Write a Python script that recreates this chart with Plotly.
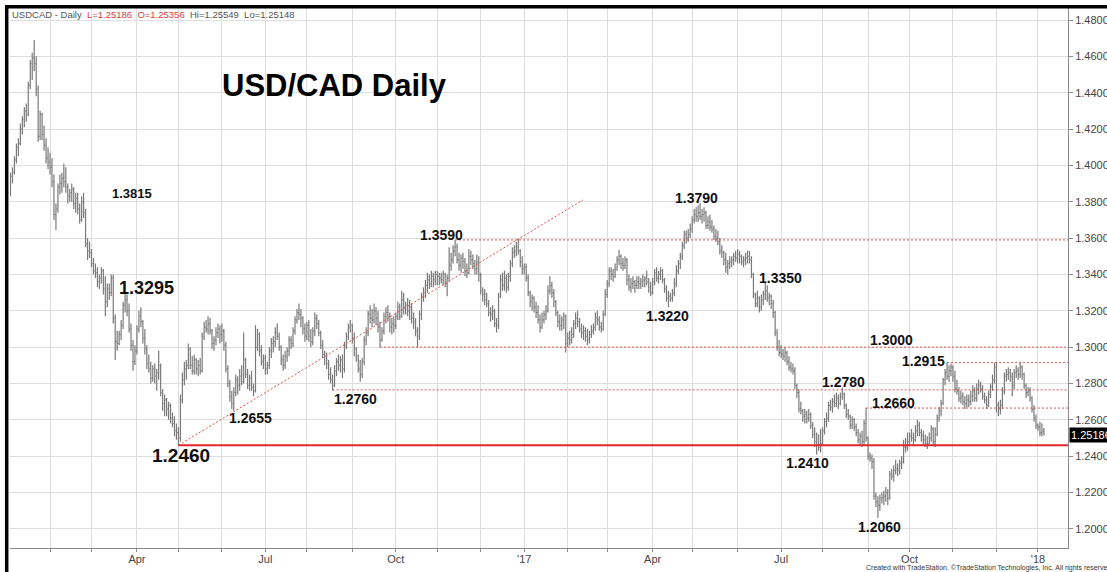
import pandas as pd
import plotly.graph_objects as go

# ---------------- data (USD/CAD daily OHLC, Jan 2016 - Jan 2018) ----------------
dates = pd.bdate_range("2016-01-04", "2018-01-04")

opens = [
    # 2016 Jan
    1.3860,1.3940,1.3960,1.4030,1.4100,1.4120,1.4200,1.4250,1.4300,1.4280,1.4440,1.4560,1.4590,1.4560,1.4420,1.4160,1.4280,1.4170,1.4110,1.4040,
    # Feb
    1.4020,1.3990,1.3910,1.3730,1.3760,1.3880,1.3900,1.3930,1.3910,1.3880,1.3830,1.3850,1.3870,1.3790,1.3820,1.3760,1.3700,1.3800,1.3740,1.3570,1.3530,
    # Mar
    1.3520,1.3460,1.3420,1.3410,1.3360,1.3380,1.3420,1.3320,1.3250,1.3320,1.3300,1.3380,1.3160,1.3030,1.3020,1.3070,1.3120,1.3230,1.3260,1.3200,1.3100,1.3010,1.2920,
    # Apr
    1.2980,1.3100,1.3170,1.3140,1.3050,1.2990,1.2910,1.2880,1.2830,1.2880,1.2840,1.2860,1.2900,1.2750,1.2690,1.2710,1.2660,1.2680,1.2610,1.2580,1.2540,
    # May
    1.2530,1.2500,1.2710,1.2820,1.2880,1.2900,1.2990,1.2900,1.2870,1.2930,1.2880,1.2900,1.2870,1.3060,1.3110,1.3100,1.3130,1.3090,1.3020,1.3040,1.3080,1.3100,
    # Jun
    1.3070,1.3090,1.3010,1.2880,1.2800,1.2730,1.2690,1.2750,1.2820,1.2790,1.2840,1.2810,1.2930,1.2850,1.2790,1.2830,1.2780,1.2760,1.3000,1.3070,1.2980,1.2920,
    # Jul
    1.2940,1.2880,1.2900,1.2980,1.3020,1.3030,1.3080,1.3060,1.3000,1.2930,1.2900,1.2950,1.2980,1.3040,1.3020,1.3090,1.3150,1.3190,1.3180,1.3160,1.3100,
    # Aug
    1.3060,1.3120,1.3060,1.3030,1.3090,1.3160,1.3130,1.3080,1.3010,1.2960,1.2950,1.2910,1.2850,1.2820,1.2790,1.2870,1.2920,1.2900,1.2930,1.2880,1.3010,1.3060,1.3110,
    # Sep
    1.3120,1.3050,1.2990,1.2950,1.2880,1.2850,1.2920,1.3040,1.3080,1.3180,1.3160,1.3150,1.3200,1.3160,1.3110,1.3040,1.3090,1.3170,1.3190,1.3170,1.3110,1.3130,
    # Oct
    1.3120,1.3170,1.3220,1.3170,1.3260,1.3220,1.3230,1.3200,1.3220,1.3160,1.3140,1.3090,1.3060,1.3180,1.3280,1.3300,1.3340,1.3370,1.3350,1.3390,1.3370,
    # Nov
    1.3400,1.3390,1.3380,1.3370,1.3400,1.3350,1.3380,1.3450,1.3480,1.3530,1.3550,1.3480,1.3450,1.3490,1.3470,1.3420,1.3410,1.3500,1.3480,1.3460,1.3430,1.3470,
    # Dec
    1.3400,1.3310,1.3290,1.3260,1.3240,1.3190,1.3180,1.3200,1.3130,1.3120,1.3280,1.3370,1.3340,1.3380,1.3330,1.3390,1.3460,1.3520,1.3530,1.3550,1.3530,1.3470,
    # 2017 Jan
    1.3430,1.3440,1.3380,1.3300,1.3250,1.3270,1.3220,1.3190,1.3150,1.3110,1.3150,1.3180,1.3200,1.3310,1.3340,1.3300,1.3250,1.3190,1.3140,1.3120,1.3150,1.3170,
    # Feb
    1.3020,1.3050,1.3040,1.3070,1.3130,1.3160,1.3140,1.3100,1.3080,1.3090,1.3060,1.3040,1.3070,1.3090,1.3110,1.3160,1.3150,1.3110,1.3100,1.3180,
    # Mar
    1.3290,1.3350,1.3420,1.3400,1.3390,1.3430,1.3480,1.3500,1.3460,1.3450,1.3480,1.3370,1.3330,1.3350,1.3360,1.3340,1.3360,1.3350,1.3360,1.3370,1.3380,1.3360,1.3330,
    # Apr
    1.3300,1.3360,1.3410,1.3380,1.3400,1.3420,1.3370,1.3320,1.3270,1.3280,1.3270,1.3300,1.3350,1.3420,1.3460,1.3500,1.3560,1.3620,1.3600,1.3620,
    # May
    1.3650,1.3700,1.3730,1.3720,1.3740,1.3720,1.3730,1.3740,1.3670,1.3690,1.3660,1.3650,1.3610,1.3600,1.3580,1.3530,1.3520,1.3480,1.3440,1.3460,1.3470,1.3480,1.3500,
    # Jun
    1.3490,1.3510,1.3500,1.3470,1.3480,1.3490,1.3500,1.3480,1.3400,1.3290,1.3240,1.3270,1.3220,1.3260,1.3290,1.3310,1.3270,1.3280,1.3240,1.3190,1.3080,1.3000,
    # Jul
    1.2970,1.2960,1.2950,1.2970,1.2920,1.2890,1.2880,1.2870,1.2790,1.2750,1.2660,1.2650,1.2620,1.2630,1.2610,1.2630,1.2570,1.2520,1.2480,1.2460,1.2450,
    # Aug
    1.2470,1.2540,1.2590,1.2610,1.2680,1.2670,1.2700,1.2690,1.2720,1.2690,1.2730,1.2740,1.2680,1.2630,1.2620,1.2570,1.2600,1.2560,1.2530,1.2490,1.2510,1.2480,1.2580,
    # Sep
    1.2500,1.2400,1.2390,1.2370,1.2180,1.2150,1.2130,1.2170,1.2170,1.2180,1.2200,1.2170,1.2300,1.2290,1.2320,1.2330,1.2320,1.2360,1.2370,1.2450,1.2450,
    # Oct
    1.2480,1.2510,1.2500,1.2490,1.2540,1.2570,1.2530,1.2510,1.2490,1.2470,1.2470,1.2500,1.2550,1.2480,1.2520,1.2610,1.2650,1.2690,1.2820,1.2860,1.2840,1.2870,
    # Nov
    1.2890,1.2840,1.2770,1.2760,1.2720,1.2730,1.2700,1.2690,1.2710,1.2700,1.2730,1.2760,1.2720,1.2770,1.2790,1.2770,1.2730,1.2710,1.2680,1.2740,1.2780,1.2820,
    # Dec
    1.2890,1.2680,1.2660,1.2680,1.2760,1.2840,1.2850,1.2860,1.2840,1.2790,1.2860,1.2870,1.2850,1.2890,1.2850,1.2790,1.2750,1.2760,1.2720,1.2660,1.2610,
    # 2018 Jan
    1.2570,1.2560,1.2530,1.25356,
]

highs = [
    1.3960,1.3990,1.4050,1.4120,1.4150,1.4230,1.4270,1.4320,1.4340,1.4460,1.4580,1.4620,1.4690,1.4600,1.4440,1.4300,1.4290,1.4220,1.4150,1.4100,
    1.4070,1.4040,1.3950,1.3790,1.3900,1.3950,1.3960,1.4010,1.3990,1.3900,1.3870,1.3900,1.3880,1.3850,1.3850,1.3790,1.3830,1.3850,1.3760,1.3600,1.3580,
    1.3540,1.3490,1.3460,1.3440,1.3400,1.3440,1.3430,1.3390,1.3350,1.3350,1.3400,1.3400,1.3180,1.3090,1.3090,1.3150,1.3250,1.3300,1.3290,1.3240,1.3130,1.3040,1.3010,
    1.3120,1.3200,1.3220,1.3150,1.3100,1.3010,1.2960,1.2920,1.2900,1.2910,1.2880,1.2980,1.2910,1.2770,1.2740,1.2720,1.2700,1.2690,1.2640,1.2620,1.2580,
    1.2560,1.2740,1.2860,1.2920,1.2930,1.3020,1.3000,1.2950,1.2960,1.2940,1.2930,1.2940,1.3080,1.3140,1.3150,1.3170,1.3160,1.3100,1.3060,1.3110,1.3130,1.3120,
    1.3130,1.3100,1.3030,1.2900,1.2820,1.2760,1.2780,1.2850,1.2840,1.2880,1.2900,1.3080,1.2940,1.2880,1.2850,1.2870,1.2800,1.3120,1.3100,1.3080,1.3010,1.2960,
    1.2960,1.2920,1.3000,1.3050,1.3060,1.3110,1.3130,1.3080,1.3010,1.2960,1.2980,1.3000,1.3060,1.3060,1.3110,1.3170,1.3210,1.3240,1.3210,1.3170,1.3130,
    1.3140,1.3150,1.3100,1.3110,1.3190,1.3180,1.3150,1.3090,1.3040,1.2980,1.2970,1.2930,1.2890,1.2850,1.2900,1.2940,1.2960,1.2950,1.2960,1.3030,1.3080,1.3130,1.3150,
    1.3130,1.3080,1.3000,1.2960,1.2930,1.2940,1.3060,1.3110,1.3200,1.3230,1.3210,1.3240,1.3220,1.3200,1.3140,1.3110,1.3190,1.3220,1.3230,1.3190,1.3160,1.3170,
    1.3190,1.3250,1.3240,1.3310,1.3300,1.3250,1.3270,1.3260,1.3240,1.3190,1.3160,1.3110,1.3200,1.3300,1.3330,1.3370,1.3410,1.3400,1.3420,1.3410,1.3420,
    1.3420,1.3410,1.3410,1.3420,1.3410,1.3400,1.3550,1.3520,1.3560,1.3590,1.3570,1.3520,1.3510,1.3520,1.3490,1.3460,1.3540,1.3530,1.3510,1.3480,1.3510,1.3500,
    1.3410,1.3330,1.3320,1.3300,1.3260,1.3220,1.3230,1.3210,1.3160,1.3300,1.3400,1.3410,1.3420,1.3400,1.3410,1.3480,1.3550,1.3560,1.3580,1.3595,1.3540,1.3500,
    1.3460,1.3460,1.3400,1.3310,1.3290,1.3280,1.3250,1.3230,1.3180,1.3190,1.3200,1.3230,1.3340,1.3390,1.3360,1.3320,1.3260,1.3200,1.3180,1.3170,1.3190,1.3180,
    1.3080,1.3090,1.3110,1.3150,1.3190,1.3200,1.3160,1.3130,1.3120,1.3110,1.3100,1.3090,1.3120,1.3130,1.3190,1.3200,1.3170,1.3140,1.3200,1.3320,
    1.3370,1.3440,1.3440,1.3430,1.3460,1.3500,1.3535,1.3510,1.3490,1.3500,1.3490,1.3400,1.3380,1.3390,1.3370,1.3390,1.3390,1.3380,1.3400,1.3390,1.3420,1.3380,1.3360,
    1.3380,1.3430,1.3440,1.3420,1.3440,1.3430,1.3380,1.3340,1.3310,1.3300,1.3320,1.3380,1.3450,1.3480,1.3520,1.3580,1.3640,1.3640,1.3650,1.3680,
    1.3720,1.3760,1.3770,1.3780,1.3793,1.3760,1.3770,1.3750,1.3720,1.3730,1.3700,1.3670,1.3650,1.3640,1.3600,1.3560,1.3530,1.3520,1.3480,1.3500,1.3500,1.3520,1.3530,
    1.3540,1.3530,1.3510,1.3500,1.3520,1.3530,1.3530,1.3500,1.3410,1.3300,1.3310,1.3280,1.3290,1.3310,1.3360,1.3340,1.3300,1.3290,1.3260,1.3200,1.3100,1.3040,
    1.3010,1.2990,1.3000,1.2980,1.2950,1.2920,1.2910,1.2890,1.2800,1.2770,1.2700,1.2660,1.2660,1.2650,1.2660,1.2640,1.2590,1.2560,1.2530,1.2520,1.2550,
    1.2560,1.2610,1.2640,1.2700,1.2710,1.2720,1.2740,1.2750,1.2740,1.2750,1.2778,1.2750,1.2690,1.2660,1.2630,1.2620,1.2610,1.2580,1.2550,1.2530,1.2540,1.2600,1.2666,
    1.2510,1.2420,1.2410,1.2390,1.2200,1.2180,1.2190,1.2200,1.2210,1.2230,1.2220,1.2320,1.2330,1.2350,1.2380,1.2360,1.2380,1.2400,1.2490,1.2500,1.2530,
    1.2530,1.2550,1.2530,1.2570,1.2600,1.2590,1.2550,1.2540,1.2520,1.2510,1.2530,1.2570,1.2560,1.2560,1.2630,1.2670,1.2710,1.2830,1.2880,1.2915,1.2900,1.2910,
    1.2900,1.2870,1.2820,1.2780,1.2760,1.2750,1.2730,1.2740,1.2740,1.2760,1.2790,1.2780,1.2800,1.2820,1.2810,1.2790,1.2750,1.2730,1.2760,1.2800,1.2850,1.2915,
    1.2920,1.2700,1.2710,1.2780,1.2860,1.2880,1.2890,1.2880,1.2860,1.2880,1.2900,1.2890,1.2915,1.2900,1.2860,1.2800,1.2780,1.2780,1.2730,1.2680,1.2630,
    1.2580,1.2590,1.2580,1.25549,
]

lows = [
    1.3830,1.3900,1.3950,1.4010,1.4050,1.4110,1.4170,1.4210,1.4240,1.4270,1.4420,1.4470,1.4520,1.4380,1.4130,1.4140,1.4140,1.4080,1.4010,1.3980,
    1.3950,1.3880,1.3700,1.3645,1.3740,1.3840,1.3850,1.3880,1.3850,1.3790,1.3800,1.3800,1.3760,1.3740,1.3730,1.3680,1.3690,1.3710,1.3550,1.3480,1.3490,
    1.3440,1.3400,1.3380,1.3330,1.3320,1.3350,1.3290,1.3170,1.3220,1.3260,1.3280,1.3130,1.2930,1.2980,1.3010,1.3040,1.3100,1.3190,1.3170,1.3080,1.2980,1.2870,1.2900,
    1.2960,1.3080,1.3110,1.3020,1.2960,1.2880,1.2860,1.2800,1.2810,1.2800,1.2760,1.2820,1.2730,1.2650,1.2620,1.2620,1.2600,1.2580,1.2560,1.2510,1.2490,
    1.2460,1.2480,1.2690,1.2790,1.2820,1.2880,1.2880,1.2850,1.2850,1.2850,1.2840,1.2850,1.2860,1.3040,1.3080,1.3070,1.3070,1.2990,1.2980,1.3010,1.3050,1.3020,
    1.3030,1.2980,1.2860,1.2780,1.2700,1.2660,1.2650,1.2730,1.2740,1.2760,1.2790,1.2800,1.2830,1.2770,1.2760,1.2760,1.2730,1.2750,1.2980,1.2950,1.2900,1.2880,
    1.2850,1.2850,1.2880,1.2940,1.2970,1.3000,1.3040,1.2980,1.2900,1.2870,1.2880,1.2920,1.2950,1.2990,1.3000,1.3070,1.3130,1.3150,1.3110,1.3070,1.3030,
    1.3040,1.3030,1.3000,1.3010,1.3060,1.3100,1.3060,1.2990,1.2940,1.2900,1.2880,1.2820,1.2800,1.2760,1.2780,1.2840,1.2870,1.2860,1.2830,1.2860,1.2990,1.3040,1.3080,
    1.3020,1.2950,1.2920,1.2860,1.2810,1.2830,1.2900,1.3010,1.3060,1.3130,1.3110,1.3130,1.3120,1.3080,1.3000,1.3030,1.3070,1.3130,1.3140,1.3080,1.3070,1.3080,
    1.3100,1.3150,1.3150,1.3160,1.3180,1.3180,1.3170,1.3150,1.3130,1.3100,1.3060,1.3000,1.3040,1.3150,1.3250,1.3270,1.3300,1.3320,1.3330,1.3330,1.3340,
    1.3340,1.3340,1.3350,1.3340,1.3330,1.3280,1.3360,1.3420,1.3460,1.3500,1.3460,1.3420,1.3410,1.3430,1.3390,1.3380,1.3400,1.3450,1.3430,1.3400,1.3400,1.3360,
    1.3290,1.3250,1.3230,1.3220,1.3170,1.3140,1.3150,1.3110,1.3080,1.3100,1.3270,1.3310,1.3310,1.3300,1.3310,1.3360,1.3440,1.3490,1.3500,1.3510,1.3440,1.3400,
    1.3400,1.3360,1.3280,1.3220,1.3200,1.3190,1.3160,1.3130,1.3080,1.3100,1.3130,1.3150,1.3190,1.3290,1.3270,1.3220,1.3170,1.3110,1.3090,1.3090,1.3100,1.2970,
    1.3000,1.3010,1.3020,1.3050,1.3100,1.3110,1.3080,1.3050,1.3040,1.3030,1.3010,1.3020,1.3050,1.3070,1.3090,1.3120,1.3090,1.3080,1.3090,1.3170,
    1.3270,1.3330,1.3370,1.3360,1.3380,1.3420,1.3450,1.3430,1.3420,1.3430,1.3340,1.3310,1.3300,1.3320,1.3300,1.3320,1.3320,1.3320,1.3330,1.3330,1.3340,1.3300,1.3280,
    1.3290,1.3340,1.3360,1.3350,1.3370,1.3350,1.3300,1.3250,1.3220,1.3250,1.3250,1.3280,1.3330,1.3400,1.3430,1.3480,1.3540,1.3570,1.3580,1.3600,
    1.3630,1.3680,1.3690,1.3690,1.3700,1.3680,1.3690,1.3650,1.3650,1.3640,1.3630,1.3590,1.3580,1.3560,1.3510,1.3490,1.3450,1.3410,1.3400,1.3430,1.3440,1.3450,1.3470,
    1.3460,1.3460,1.3450,1.3440,1.3450,1.3460,1.3460,1.3380,1.3270,1.3220,1.3220,1.3190,1.3200,1.3230,1.3260,1.3250,1.3230,1.3210,1.3160,1.3060,1.2980,1.2950,
    1.2940,1.2930,1.2920,1.2900,1.2870,1.2860,1.2850,1.2770,1.2720,1.2640,1.2630,1.2590,1.2580,1.2580,1.2590,1.2550,1.2500,1.2450,1.2410,1.2430,1.2420,
    1.2460,1.2520,1.2560,1.2590,1.2650,1.2640,1.2670,1.2670,1.2660,1.2680,1.2710,1.2660,1.2610,1.2600,1.2550,1.2550,1.2540,1.2510,1.2470,1.2460,1.2450,1.2460,1.2480,
    1.2380,1.2370,1.2330,1.2160,1.2120,1.2062,1.2100,1.2140,1.2130,1.2150,1.2130,1.2160,1.2270,1.2260,1.2300,1.2290,1.2300,1.2330,1.2360,1.2420,1.2430,
    1.2460,1.2480,1.2460,1.2480,1.2510,1.2510,1.2480,1.2460,1.2450,1.2440,1.2460,1.2480,1.2460,1.2450,1.2510,1.2590,1.2620,1.2680,1.2790,1.2820,1.2810,1.2840,
    1.2810,1.2750,1.2740,1.2700,1.2690,1.2680,1.2660,1.2670,1.2670,1.2680,1.2700,1.2700,1.2700,1.2740,1.2750,1.2710,1.2690,1.2660,1.2670,1.2720,1.2760,1.2800,
    1.2640,1.2620,1.2630,1.2660,1.2740,1.2810,1.2820,1.2810,1.2730,1.2770,1.2830,1.2820,1.2830,1.2820,1.2770,1.2720,1.2730,1.2700,1.2640,1.2590,1.2550,
    1.2540,1.2510,1.2510,1.25148,
]

closes = [
    1.3940,1.3960,1.4030,1.4100,1.4120,1.4200,1.4250,1.4300,1.4280,1.4440,1.4560,1.4590,1.4560,1.4420,1.4160,1.4280,1.4170,1.4110,1.4040,1.4020,
    1.3990,1.3910,1.3730,1.3760,1.3880,1.3900,1.3930,1.3910,1.3880,1.3830,1.3850,1.3870,1.3790,1.3820,1.3760,1.3700,1.3800,1.3740,1.3570,1.3530,1.3520,
    1.3460,1.3420,1.3410,1.3360,1.3380,1.3420,1.3320,1.3250,1.3320,1.3300,1.3380,1.3160,1.3030,1.3020,1.3070,1.3120,1.3230,1.3260,1.3200,1.3100,1.3010,1.2920,1.2980,
    1.3100,1.3170,1.3140,1.3050,1.2990,1.2910,1.2880,1.2830,1.2880,1.2840,1.2860,1.2900,1.2750,1.2690,1.2710,1.2660,1.2680,1.2610,1.2580,1.2540,1.2530,
    1.2500,1.2710,1.2820,1.2880,1.2900,1.2990,1.2900,1.2870,1.2930,1.2880,1.2900,1.2870,1.3060,1.3110,1.3100,1.3130,1.3090,1.3020,1.3040,1.3080,1.3100,1.3070,
    1.3090,1.3010,1.2880,1.2800,1.2730,1.2690,1.2750,1.2820,1.2790,1.2840,1.2810,1.2930,1.2850,1.2790,1.2830,1.2780,1.2760,1.3000,1.3070,1.2980,1.2920,1.2940,
    1.2880,1.2900,1.2980,1.3020,1.3030,1.3080,1.3060,1.3000,1.2930,1.2900,1.2950,1.2980,1.3040,1.3020,1.3090,1.3150,1.3190,1.3180,1.3160,1.3100,1.3060,
    1.3120,1.3060,1.3030,1.3090,1.3160,1.3130,1.3080,1.3010,1.2960,1.2950,1.2910,1.2850,1.2820,1.2790,1.2870,1.2920,1.2900,1.2930,1.2880,1.3010,1.3060,1.3110,1.3120,
    1.3050,1.2990,1.2950,1.2880,1.2850,1.2920,1.3040,1.3080,1.3180,1.3160,1.3150,1.3200,1.3160,1.3110,1.3040,1.3090,1.3170,1.3190,1.3170,1.3110,1.3130,1.3120,
    1.3170,1.3220,1.3170,1.3260,1.3220,1.3230,1.3200,1.3220,1.3160,1.3140,1.3090,1.3060,1.3180,1.3280,1.3300,1.3340,1.3370,1.3350,1.3390,1.3370,1.3400,
    1.3390,1.3380,1.3370,1.3400,1.3350,1.3380,1.3450,1.3480,1.3530,1.3550,1.3480,1.3450,1.3490,1.3470,1.3420,1.3410,1.3500,1.3480,1.3460,1.3430,1.3470,1.3400,
    1.3310,1.3290,1.3260,1.3240,1.3190,1.3180,1.3200,1.3130,1.3120,1.3280,1.3370,1.3340,1.3380,1.3330,1.3390,1.3460,1.3520,1.3530,1.3550,1.3530,1.3470,1.3430,
    1.3440,1.3380,1.3300,1.3250,1.3270,1.3220,1.3190,1.3150,1.3110,1.3150,1.3180,1.3200,1.3310,1.3340,1.3300,1.3250,1.3190,1.3140,1.3120,1.3150,1.3170,1.3020,
    1.3050,1.3040,1.3070,1.3130,1.3160,1.3140,1.3100,1.3080,1.3090,1.3060,1.3040,1.3070,1.3090,1.3110,1.3160,1.3150,1.3110,1.3100,1.3180,1.3290,
    1.3350,1.3420,1.3400,1.3390,1.3430,1.3480,1.3500,1.3460,1.3450,1.3480,1.3370,1.3330,1.3350,1.3360,1.3340,1.3360,1.3350,1.3360,1.3370,1.3380,1.3360,1.3330,1.3300,
    1.3360,1.3410,1.3380,1.3400,1.3420,1.3370,1.3320,1.3270,1.3280,1.3270,1.3300,1.3350,1.3420,1.3460,1.3500,1.3560,1.3620,1.3600,1.3620,1.3650,
    1.3700,1.3730,1.3720,1.3740,1.3720,1.3730,1.3740,1.3670,1.3690,1.3660,1.3650,1.3610,1.3600,1.3580,1.3530,1.3520,1.3480,1.3440,1.3460,1.3470,1.3480,1.3500,1.3490,
    1.3510,1.3500,1.3470,1.3480,1.3490,1.3500,1.3480,1.3400,1.3290,1.3240,1.3270,1.3220,1.3260,1.3290,1.3310,1.3270,1.3280,1.3240,1.3190,1.3080,1.3000,1.2970,
    1.2960,1.2950,1.2970,1.2920,1.2890,1.2880,1.2870,1.2790,1.2750,1.2660,1.2650,1.2620,1.2630,1.2610,1.2630,1.2570,1.2520,1.2480,1.2460,1.2450,1.2470,
    1.2540,1.2590,1.2610,1.2680,1.2670,1.2700,1.2690,1.2720,1.2690,1.2730,1.2740,1.2680,1.2630,1.2620,1.2570,1.2600,1.2560,1.2530,1.2490,1.2510,1.2480,1.2580,1.2500,
    1.2400,1.2390,1.2370,1.2180,1.2150,1.2130,1.2170,1.2170,1.2180,1.2200,1.2170,1.2300,1.2290,1.2320,1.2330,1.2320,1.2360,1.2370,1.2450,1.2450,1.2480,
    1.2510,1.2500,1.2490,1.2540,1.2570,1.2530,1.2510,1.2490,1.2470,1.2470,1.2500,1.2550,1.2480,1.2520,1.2610,1.2650,1.2690,1.2820,1.2860,1.2840,1.2870,1.2890,
    1.2840,1.2770,1.2760,1.2720,1.2730,1.2700,1.2690,1.2710,1.2700,1.2730,1.2760,1.2720,1.2770,1.2790,1.2770,1.2730,1.2710,1.2680,1.2740,1.2780,1.2820,1.2890,
    1.2680,1.2660,1.2680,1.2760,1.2840,1.2850,1.2860,1.2840,1.2790,1.2860,1.2870,1.2850,1.2890,1.2850,1.2790,1.2750,1.2760,1.2720,1.2660,1.2610,1.2570,
    1.2560,1.2530,1.2540,1.25186,
]

assert len(opens) == len(highs) == len(lows) == len(closes) == len(dates), (
    len(opens), len(highs), len(lows), len(closes), len(dates))

# support / resistance levels drawn on the chart
support_price = 1.2460
support_start = "2016-05-02"
level_prices = [1.3590, 1.3000, 1.2765, 1.2915, 1.2665]
level_starts = ["2016-11-14", "2016-09-21", "2016-08-18", "2017-10-27", "2017-08-31"]
trend_dates = ["2016-05-02", "2017-02-10 17:00"]
trend_prices = [1.2460, 1.3810]

# price labels written on the chart
label_texts = ["1.3815", "1.3295", "1.2460", "1.2655", "1.2760", "1.3590", "1.3790",
               "1.3220", "1.3350", "1.3000", "1.2915", "1.2780", "1.2660", "1.2410", "1.2060"]

last_price = closes[-1]

# ---------------- layout helpers ----------------
W, H = 1107, 572
ML, MR, MT, MB = 10, 39, 8, 24
PW, PH = W - ML - MR, H - MT - MB
FONT = "Liberation Sans, Arial, sans-serif"

def px_x(px):
    return (px - ML) / PW

def px_y(py):
    return 1 - (py - MT) / PH

x_start = "2016-01-01 18:00"
x_end = "2018-01-22 05:00"

fig = go.Figure()

fig.add_trace(go.Ohlc(
    x=dates, open=opens, high=highs, low=lows, close=closes,
    increasing=dict(line=dict(color="#7a7a7a", width=1.2)),
    decreasing=dict(line=dict(color="#7a7a7a", width=1.2)),
    tickwidth=0.45, hoverinfo="skip", showlegend=False,
))

# dotted resistance / support levels
for p, s in zip(level_prices, level_starts):
    fig.add_trace(go.Scatter(
        x=[s, x_end], y=[p, p], mode="lines",
        line=dict(color="#e05252", width=1, dash="2px,2px"),
        hoverinfo="skip", showlegend=False,
    ))

# rising trend line
fig.add_trace(go.Scatter(
    x=trend_dates, y=trend_prices, mode="lines",
    line=dict(color="#e05252", width=1, dash="2px,2px"),
    hoverinfo="skip", showlegend=False,
))

# solid support line
fig.add_trace(go.Scatter(
    x=[support_start, x_end], y=[support_price, support_price], mode="lines",
    line=dict(color="#e3262b", width=2),
    hoverinfo="skip", showlegend=False,
))

# label placement (date, price, font size) for each label text
label_pos = [
    ("2016-03-29 12:00", 1.3848, 13),
    ("2016-04-07 14:00", 1.3326, 18),
    ("2016-05-03 07:00", 1.2402, 19),
    ("2016-06-21 17:00", 1.2611, 14),
    ("2016-09-02 19:00", 1.2715, 14),
    ("2016-11-02 22:00", 1.3617, 14),
    ("2017-05-03 10:00", 1.3821, 14),
    ("2017-04-12 17:00", 1.3172, 14),
    ("2017-06-30 22:00", 1.3381, 14),
    ("2017-09-19 02:00", 1.3040, 14),
    ("2017-10-11 07:00", 1.2924, 14),
    ("2017-08-15 19:00", 1.2809, 14),
    ("2017-09-20 02:00", 1.2693, 14),
    ("2017-07-20 14:00", 1.2363, 14),
    ("2017-09-11 00:00", 1.2011, 14),
]

annotations = []
for txt, (d, p, fs) in zip(label_texts, label_pos):
    annotations.append(dict(
        x=d, y=p, xref="x", yref="y", text="<b>%s</b>" % txt, showarrow=False,
        font=dict(family=FONT, size=fs, color="#111111"),
        xanchor="center", yanchor="middle",
    ))

# title
annotations.append(dict(
    x=px_x(334), y=px_y(85), xref="paper", yref="paper",
    text="<b>USD/CAD Daily</b>", showarrow=False,
    font=dict(family=FONT, size=31, color="#000000"),
    xanchor="center", yanchor="middle",
))

# header line
annotations.append(dict(
    x=px_x(10), y=px_y(15), xref="paper", yref="paper",
    text=("USDCAD - Daily  <span style='color:#d9413f'>L=1.25186  O=1.25356</span>"
          "  Hi=1.25549  Lo=1.25148"),
    showarrow=False, font=dict(family=FONT, size=9.5, color="#555555"),
    xanchor="left", yanchor="middle",
))

# last price box on the axis
annotations.append(dict(
    x=px_x(1069), y=last_price, xref="paper", yref="y",
    text="1.25186", showarrow=False, bgcolor="#000000", borderpad=1,
    font=dict(family=FONT, size=11, color="#ffffff"),
    xanchor="left", yanchor="middle",
))

# credit
annotations.append(dict(
    x=px_x(864), y=px_y(568), xref="paper", yref="paper",
    text="Created with TradeStation. ©TradeStation Technologies, Inc. All rights reserved.",
    showarrow=False, font=dict(family=FONT, size=7, color="#333333"),
    xanchor="left", yanchor="middle",
))

# month ticks
month_firsts = pd.Series(dates).groupby([dates.year, dates.month]).first().tolist()
month_firsts = [d for d in month_firsts if d > pd.Timestamp("2016-01-10")]
quarter_names = {4: "Apr", 7: "Jul", 10: "Oct"}
tick_text = []
for d in month_firsts:
    if d.month == 1:
        tick_text.append("'%02d" % (d.year % 100))
    elif d.month in quarter_names:
        tick_text.append(quarter_names[d.month])
    else:
        tick_text.append("")

# window frame (thick black top and left edges)
shapes = [
    dict(type="line", xref="paper", yref="paper",
         x0=px_x(6.7), x1=px_x(6.7), y0=px_y(600), y1=px_y(5.2),
         line=dict(color="#000000", width=3.5)),
    dict(type="line", xref="paper", yref="paper",
         x0=px_x(5), x1=px_x(1120), y0=px_y(6.7), y1=px_y(6.7),
         line=dict(color="#000000", width=3.5)),
]

fig.update_layout(
    width=W, height=H,
    margin=dict(l=ML, r=MR, t=MT, b=MB, autoexpand=False),
    paper_bgcolor="#ffffff", plot_bgcolor="#ffffff",
    showlegend=False, hovermode=False,
    font=dict(family=FONT),
    annotations=annotations, shapes=shapes,
    xaxis=dict(
        type="date", range=[x_start, x_end],
        rangebreaks=[dict(bounds=["sat", "mon"])],
        rangeslider=dict(visible=False),
        tickmode="array", tickvals=month_firsts, ticktext=tick_text,
        ticks="outside", ticklen=3, tickcolor="#8a8a8a",
        ticklabelstandoff=-2,
        showline=True, linecolor="#8a8a8a", linewidth=1,
        showgrid=True, gridcolor="#dedede", gridwidth=1,
        tickfont=dict(family=FONT, size=11, color="#444444"),
        zeroline=False, automargin=False,
    ),
    yaxis=dict(
        side="right", range=[1.1895, 1.4866],
        tickmode="linear", tick0=1.20, dtick=0.02, tickformat=".5f",
        ticks="outside", ticklen=4, tickcolor="#8a8a8a",
        showline=True, linecolor="#8a8a8a", linewidth=1,
        showgrid=True, gridcolor="#dedede", gridwidth=1,
        tickfont=dict(family=FONT, size=11, color="#444444"),
        zeroline=False, automargin=False,
    ),
)

# remove the browser's default page margin so the figure sits at the window origin
fig.write_html(
    "out.html",
    config={"displayModeBar": False, "staticPlot": True},
    post_script="document.body.style.margin='0';document.body.style.overflow='hidden';",
)
